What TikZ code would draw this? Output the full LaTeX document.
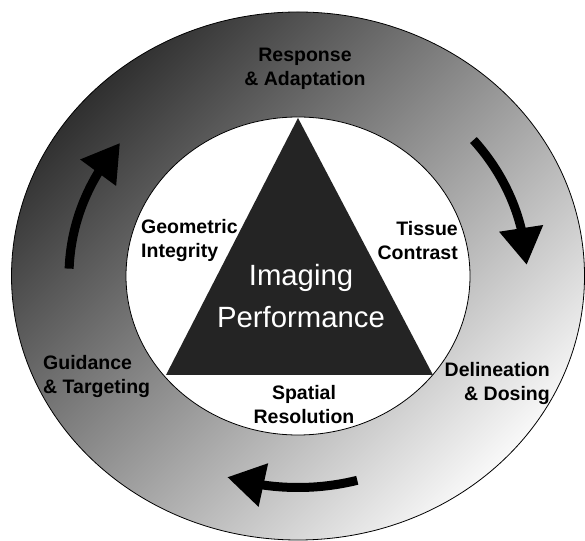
\documentclass[tikz,border=0pt]{standalone}
\usepackage{fontspec}
\setmainfont{Liberation Sans}
\usetikzlibrary{arrows.meta,bending}
\definecolor{ringdark}{HTML}{303030}
\definecolor{ringlight}{HTML}{F8F8F8}
\definecolor{trifill}{HTML}{242424}
\begin{document}
\begin{tikzpicture}[x=1pt,y=1pt,
  lbl/.style={font=\bfseries\fontsize{19.5}{24}\selectfont, inner sep=0pt},
  centre lbl/.style={font=\fontsize{29.3}{42}\selectfont, text=white, inner sep=0pt, align=center},
  cyc/.style={line width=9pt, -{Triangle[length=37pt,width=42pt,flex]}},
  rim/.style={draw=black, line width=0.8pt}
]
\useasboundingbox (0,0) rectangle (585,540);
\coordinate (c) at (298,264);

% shaded outer ring and white inner disc
\shadedraw[rim, top color=ringdark, bottom color=ringlight, shading angle=45]
  (c) ellipse [x radius=286.5, y radius=264];
\filldraw[rim, fill=white] (c) ellipse [x radius=172, y radius=159];

% central triangle
\coordinate (apex) at (298,422);
\coordinate (br) at (433,165);
\coordinate (bl) at (166,165);
\fill[trifill] (apex) -- (br) -- (bl) -- cycle;

% cycle arrows along the ring
\draw[cyc] (c) ++(178:229 and 211.5) arc[start angle=178, end angle=141, x radius=229, y radius=211.5];
\draw[cyc] (c) ++(40:229 and 211.5) arc[start angle=40, end angle=3, x radius=229, y radius=211.5];
\draw[cyc] (c) ++(-75:229 and 211.5) arc[start angle=-75, end angle=-108, x radius=229, y radius=211.5];

% labels on the ring
\node[lbl, align=center] (resp) at (305,471) {Response\\\& Adaptation};
\node[lbl, align=left, anchor=west] (guid) at (43,163.5) {Guidance\\\& Targeting};
\node[lbl, align=right, anchor=east] (deli) at (550,156.5) {Delineation\\\& Dosing};

% labels in the inner disc
\node[lbl, align=left, anchor=west] (geom) at (141,299.5) {Geometric\\Integrity};
\node[lbl, align=right, anchor=east] (tiss) at (458,299.5) {Tissue\\Contrast};
\node[lbl, align=center] (spat) at (304,135) {Spatial\\Resolution};

% triangle label
\node[centre lbl] (perf) at (301,243.5) {Imaging\\Performance};
\end{tikzpicture}
\end{document}
